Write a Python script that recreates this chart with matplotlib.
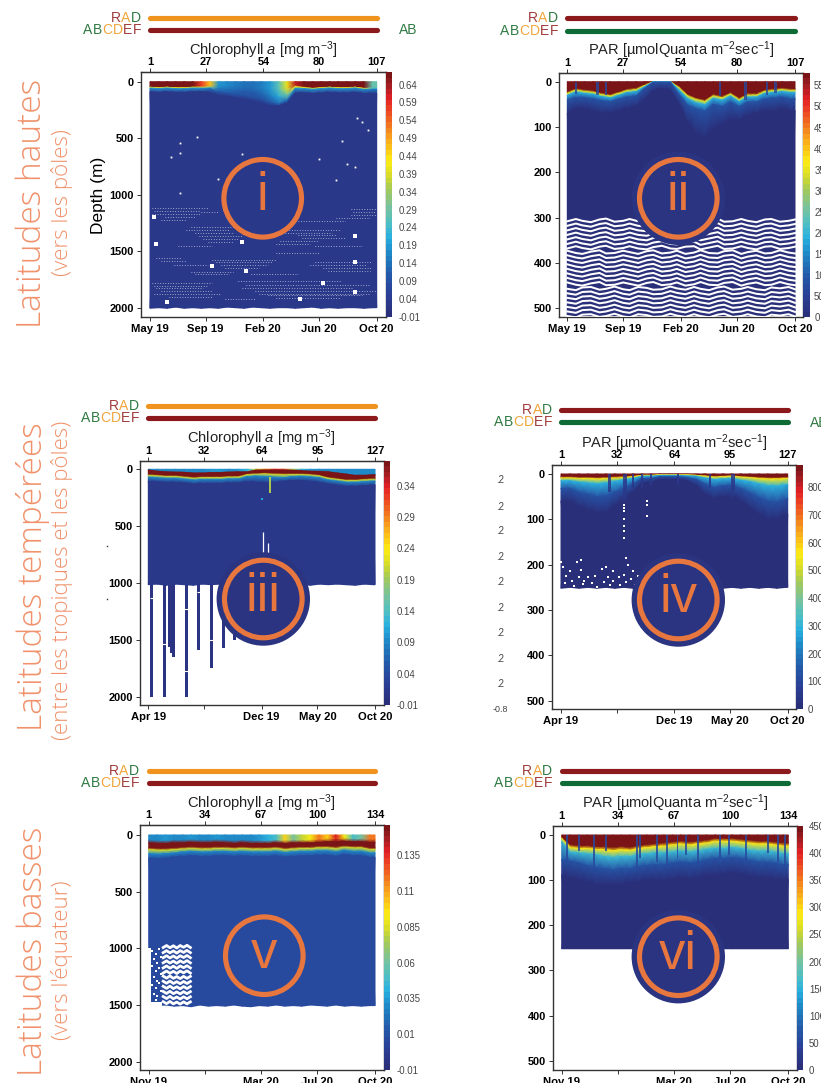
import numpy as np
import matplotlib
matplotlib.use("Agg")
import matplotlib.pyplot as plt
from matplotlib.colors import LinearSegmentedColormap, Normalize
from matplotlib.colorbar import ColorbarBase
from matplotlib.patches import Circle
from matplotlib.transforms import blended_transform_factory

plt.rcParams["font.family"] = ["Liberation Sans", "DejaVu Sans"]
plt.rcParams["mathtext.fontset"] = "custom"
plt.rcParams["mathtext.rm"] = "Liberation Sans"
plt.rcParams["mathtext.it"] = "Liberation Sans:italic"

W, H = 821, 1083

# === tick labels ===
ticks_i = [1, 27, 54, 80, 107]
dates_i = ["May 19", "Sep 19", "Feb 20", "Jun 20", "Oct 20"]
ticks_iii = [1, 32, 64, 95, 127]
dates_iii = ["Apr 19", "", "Dec 19", "May 20", "Oct 20"]
ticks_v = [1, 34, 67, 100, 134]
dates_v = ["Nov 19", "", "Mar 20", "Jul 20", "Oct 20"]

chl_title = r"Chlorophyll $\mathit{a}$ [mg m$^{-3}$]"
par_title = r"PAR [µmolQuanta m$^{-2}$sec$^{-1}$]"

# === panel i : chlorophyll, high latitudes (depth of each colour band per profile) ===
i_x = np.arange(1, 106, 4)
i_d1 = [45, 50, 45, 50, 50, 45, 45, 40, 30, 35, 40, 45, 50, 55, 60, 65, 55, 35, 45, 55, 50, 45, 50, 50, 45, 55, 50]
i_d2 = [50, 55, 50, 55, 55, 50, 50, 50, 60, 70, 80, 90, 100, 110, 125, 135, 120, 45, 55, 60, 55, 50, 55, 55, 50, 60, 60]
i_d3 = [58, 62, 58, 62, 62, 58, 58, 62, 90, 100, 115, 125, 140, 155, 180, 200, 165, 60, 62, 68, 62, 58, 62, 62, 58, 68, 70]
i_d4 = [90, 95, 90, 95, 95, 90, 90, 95, 120, 130, 145, 155, 170, 190, 215, 215, 190, 100, 100, 105, 100, 95, 100, 100, 95, 105, 105]
i_floor = [2005, 2000, 2005, 1995, 2005, 2000, 2005, 2000, 2005, 1995, 2000, 2005, 1995, 2000, 2005, 2000, 2000, 2005, 2000, 1995, 2005, 2000, 2005, 2000, 2000, 2005, 2000]
i_v1 = [.67, .67, .67, .67, .67, .67, .58, .47, .19, .17, .15, .14, .14, .15, .19, .27, .40, .62, .67, .67, .67, .67, .67, .67, .67, .67, .28]
i_v2 = [.42, .42, .42, .42, .42, .42, .42, .30, .15, .14, .12, .11, .11, .12, .15, .20, .28, .42, .42, .42, .42, .42, .42, .42, .42, .42, .24]
i_v3 = [.19, .19, .19, .19, .19, .19, .19, .14, .11, .10, .09, .09, .09, .09, .10, .12, .14, .19, .19, .19, .19, .19, .19, .19, .19, .19, .15]
i_hole_n = [15, 15, 11, 23, 44, 33, 15, 91, 80, 93, 97, 88, 98, 100, 103]
i_hole_d = [540, 628, 664, 493, 640, 861, 988, 522, 681, 731, 752, 870, 318, 360, 428]
i_block_n = [3, 4, 44, 30, 46, 97, 97, 97, 82, 71, 9]
i_block_d = [1195, 1433, 1421, 1628, 1675, 1363, 1598, 1864, 1785, 1920, 1952]
# runs of missing samples in the deep part: first profile, last profile, depth
i_runs = [(2, 28, 1120), (2, 25, 1170), (6, 18, 1220), (95, 107, 1130), (95, 107, 1180), (25, 33, 1150),
          (3, 24, 1145), (8, 22, 1195), (96, 106, 1155), (88, 104, 1205), (70, 92, 1230),
          (20, 42, 1290), (22, 40, 1340), (26, 42, 1390), (66, 90, 1310), (70, 88, 1360), (62, 80, 1410),
          (18, 38, 1315), (24, 44, 1365), (64, 86, 1335), (72, 92, 1385), (60, 76, 1435), (28, 40, 1415),
          (14, 30, 1450), (78, 100, 1450), (4, 16, 1560), (30, 60, 1580), (34, 56, 1620), (20, 40, 1680),
          (6, 18, 1590), (32, 58, 1600), (36, 52, 1645), (22, 38, 1705), (76, 102, 1625), (84, 104, 1675),
          (78, 105, 1600), (82, 105, 1650), (60, 80, 1520), (48, 70, 1700), (12, 28, 1620), (2, 30, 1780),
          (4, 26, 1830), (3, 34, 1880), (46, 104, 1800), (50, 107, 1850), (42, 90, 1760), (56, 100, 1890),
          (3, 28, 1805), (6, 30, 1855), (44, 96, 1825), (52, 104, 1875), (36, 50, 1920), (60, 90, 1910), (10, 30, 1905)]

# === panel ii : PAR, high latitudes ===
ii_x = np.arange(1, 106, 4)
ii_d1 = [22, 15, 18, 20, 25, 28, 22, 16, 14, 6, 0, 0, 0, 10, 28, 36, 40, 28, 32, 24, 36, 26, 26, 18, 16, 14, 16]
ii_d2 = [26, 19, 22, 24, 29, 32, 26, 20, 18, 9, 0, 0, 0, 14, 32, 40, 44, 32, 36, 28, 40, 30, 30, 22, 20, 18, 20]
ii_d3 = [30, 23, 26, 28, 33, 36, 30, 24, 22, 11, 0, 0, 0, 19, 38, 47, 51, 37, 41, 32, 44, 34, 34, 26, 24, 22, 24]
ii_d4 = [40, 35, 35, 38, 42, 44, 38, 34, 32, 15, 1, 1, 1, 28, 52, 60, 65, 50, 55, 45, 55, 45, 45, 38, 36, 34, 38]
ii_d5 = [70, 60, 60, 65, 70, 70, 65, 60, 55, 40, 20, 15, 20, 50, 90, 115, 125, 105, 95, 85, 85, 75, 70, 65, 65, 60, 65]
ii_floor = [516] * 27
ii_spike_n = [5, 15, 19, 72, 84, 94, 98]
ii_spike_d = [28, 30, 30, 32, 40, 30, 26]
ii_gap_levels = list(range(306, 520, 10))
ii_wave_n = [1, 5, 8, 12, 16, 19, 23, 27, 30, 34, 38, 41, 45, 49, 52, 56, 60, 63, 67, 71, 74, 78, 82, 85, 89, 93, 96, 100, 104, 107]
ii_wave_a = [2, -3, 1, 4, -2, -4, 3, 1, -3, 2, 4, -1, -4, 2, 3, -2, -3, 4, 0, -4, 3, 2, -3, 1, 4, -2, -3, 3, 1, -2]
ii_wave_b = [-3, 2, 4, -1, -4, 3, 2, -3, 0, 4, -2, -4, 3, 1, -3, 4, 1, -4, 2, 3, -2, -4, 4, 0, -3, 3, 2, -4, 1, 3]
ii_wave_c = [1, 4, -2, -3, 3, 1, -4, 2, 4, -3, -1, 3, 2, -4, 0, 3, -3, 1, 4, -2, -4, 3, 1, -3, 2, 4, -2, 0, -3, 2]

# === panel iii : chlorophyll, mid latitudes ===
iii_x = np.arange(1, 127, 5)
iii_d0 = [3, 12, 18, 20, 22, 28, 28, 24, 24, 20, 18, 18, 3, 3, 3, 3, 3, 8, 12, 14, 18, 28, 38, 48, 48, 44]
iii_d1 = [8, 18, 24, 26, 28, 34, 34, 30, 30, 26, 24, 24, 8, 8, 8, 8, 10, 14, 18, 20, 24, 34, 44, 54, 54, 50]
iii_d2 = [45, 50, 55, 55, 62, 70, 65, 65, 65, 60, 60, 40, 35, 32, 35, 38, 38, 38, 42, 50, 70, 80, 90, 90, 85, 80]
iii_d3 = [55, 60, 65, 65, 72, 80, 75, 75, 75, 70, 70, 50, 45, 42, 48, 50, 48, 48, 52, 60, 80, 90, 100, 100, 95, 90]
iii_d4 = [70, 75, 80, 80, 87, 95, 90, 90, 90, 85, 85, 65, 60, 65, 70, 75, 65, 62, 67, 75, 95, 105, 115, 115, 110, 105]
iii_d5 = [105, 110, 115, 115, 120, 130, 125, 125, 125, 120, 120, 110, 115, 120, 115, 105, 100, 100, 105, 115, 130, 140, 150, 150, 145, 140]
iii_floor = [1015, 1010, 1020, 1010, 1015, 1020, 1010, 1015, 1010, 1015, 1010, 1015, 1010, 1010, 1015, 1010, 1015, 1010, 1020, 1010, 1015, 1010, 1015, 1020, 1010, 1015]
iii_v0 = [.08, .09, .09, .09, .09, .09, .09, .10, .10, .09, .10, .12, .22, .29, .33, .31, .20, .12, .10, .09, .09, .09, .09, .09, .09, .09]
# deep casts below 1000 m
iii_cast_n = [3, 10, 13, 14, 15, 22, 29, 36, 43, 49]
iii_cast_d = [2000, 2000, 1560, 1620, 1650, 2000, 1590, 1750, 1570, 1500]
iii_break_n = [3, 10, 22, 22, 29, 36]
iii_break_d = [1130, 1535, 1230, 1770, 1080, 1500]

# === panel iv : PAR, mid latitudes ===
iv_x = np.arange(1, 127, 5)
iv_d1 = [6, 6, 7, 7, 8, 7, 6, 5, 4, 2, 2, 1, 1, 1, 1, 2, 3, 5, 4, 3, 5, 6, 7, 8, 8, 7]
iv_d2 = [9, 9, 10, 10, 11, 10, 9, 8, 6, 3, 3, 2, 2, 2, 2, 3, 5, 7, 6, 5, 7, 8, 10, 11, 11, 10]
iv_d3 = [15, 15, 18, 20, 22, 20, 16, 13, 10, 5, 5, 3, 3, 3, 4, 5, 9, 12, 11, 10, 14, 17, 22, 26, 27, 24]
iv_d4 = [32, 32, 40, 45, 50, 48, 40, 32, 22, 10, 10, 6, 6, 6, 8, 12, 22, 30, 26, 25, 32, 42, 52, 60, 62, 55]
iv_d5 = [60, 60, 72, 80, 85, 85, 70, 55, 40, 20, 18, 12, 12, 12, 15, 25, 45, 55, 50, 50, 60, 75, 90, 100, 100, 90]
iv_floor = [252, 250, 252, 250, 252, 250, 252, 250, 252, 250, 252, 250, 252, 250, 252, 250, 252, 250, 252, 250, 252, 250, 252, 250, 252, 250]
iv_spike_n = [28, 36, 37, 41, 46, 51, 66, 84, 96, 97]
iv_spike_d = [40, 60, 55, 35, 30, 25, 25, 30, 55, 35]
iv_hole_n = [1, 2, 4, 3, 6, 7, 8, 10, 11, 12, 13, 14, 12, 16, 18, 20, 21, 24, 26, 25, 27, 28, 30, 30, 33, 34, 36, 37, 38, 40, 41, 42, 44, 46,
             36, 36, 36, 36, 36, 36, 36, 37, 49, 49, 49]
iv_hole_d = [195, 205, 225, 240, 215, 235, 248, 195, 228, 212, 242, 235, 190, 228, 240, 225, 250, 210, 205, 238, 228, 245, 215, 235, 228, 245, 222, 238, 200, 232, 215, 245, 225, 240,
             68, 75, 82, 100, 115, 125, 142, 185, 60, 68, 92]

# === panel v : chlorophyll, low latitudes ===
v_x = np.arange(1, 132, 5)
v_d1 = [45, 50, 50, 45, 45, 40, 45, 45, 40, 45, 50, 45, 50, 50, 50, 45, 50, 45, 45, 45, 40, 35, 35, 30, 35, 35, 40]
v_d2 = [70, 75, 75, 70, 70, 65, 70, 70, 65, 70, 75, 70, 75, 75, 75, 70, 75, 70, 70, 70, 65, 60, 60, 55, 60, 60, 65]
v_d3 = [115, 120, 120, 115, 110, 105, 110, 110, 105, 105, 110, 105, 110, 110, 110, 105, 115, 110, 105, 105, 100, 100, 105, 95, 100, 100, 115]
v_d4 = [130, 135, 135, 130, 125, 120, 125, 125, 120, 120, 125, 120, 125, 125, 125, 120, 130, 125, 120, 120, 115, 115, 120, 110, 115, 115, 130]
v_d5 = [165, 170, 165, 160, 150, 145, 150, 150, 145, 145, 150, 145, 150, 150, 150, 145, 155, 150, 145, 145, 140, 140, 150, 135, 145, 145, 160]
v_d6 = [205, 210, 205, 195, 190, 185, 190, 190, 185, 185, 190, 185, 190, 190, 190, 185, 195, 190, 185, 185, 180, 180, 190, 175, 185, 185, 200]
v_floor = [1510, 1505, 1500, 1510, 1505, 1515, 1500, 1510, 1505, 1510, 1500, 1510, 1515, 1505, 1510, 1500, 1510, 1505, 1510, 1500, 1505, 1510, 1500, 1510, 1505, 1510, 1505]
v_v1 = [.03, .03, .035, .03, .03, .035, .03, .03, .035, .03, .03, .03, .03, .035, .04, .05, .10, .06, .08, .09, .12, .10, .14, .09, .05, .06, .12]
v_gap_levels = [985, 1030, 1075, 1120, 1165, 1210, 1255, 1300, 1345, 1390, 1435, 1480]
v_wave_n = [9.5, 11.5, 13.5, 15.5, 17.5, 19.5, 21.5, 23.5, 25.5]
v_wave_a = [8, -10, 10, -8, 12, -10, 6, -12, 8]
v_wave_b = [-10, 8, -12, 10, -6, 12, -8, 10, -8]
v_hole_n = [3, 5, 7, 4, 6, 8, 3, 5, 7, 4, 8, 6, 3, 5, 7, 4, 6, 8, 5, 7]
v_hole_d = [1020, 1050, 1010, 1090, 1130, 1080, 1160, 1200, 1170, 1250, 1230, 1290, 1320, 1350, 1310, 1400, 1420, 1380, 1460, 1480]

# === panel vi : PAR, low latitudes ===
vi_x = np.arange(1, 132, 5)
vi_d1 = [5, 22, 24, 24, 26, 26, 28, 26, 28, 24, 22, 20, 18, 16, 14, 16, 14, 12, 8, 8, 8, 10, 12, 14, 14, 16, 18]
vi_d2 = [8, 28, 30, 30, 32, 33, 35, 33, 34, 30, 28, 26, 25, 22, 20, 22, 20, 18, 14, 14, 14, 16, 18, 20, 20, 22, 25]
vi_d3 = [15, 38, 40, 42, 44, 48, 50, 48, 48, 44, 42, 40, 40, 38, 36, 38, 36, 32, 30, 30, 28, 30, 34, 36, 36, 38, 42]
vi_d4 = [55, 58, 62, 68, 72, 75, 78, 75, 75, 70, 68, 66, 66, 62, 60, 62, 60, 55, 52, 52, 50, 52, 56, 60, 60, 62, 66]
vi_d5 = [90, 95, 100, 105, 110, 110, 110, 110, 105, 105, 100, 100, 100, 98, 95, 98, 95, 90, 90, 88, 85, 88, 92, 95, 95, 98, 100]
vi_floor = [252] * 27
vi_spike_n = [4, 11, 20, 27, 45, 47, 57, 63, 69, 74, 81, 94, 99, 109, 122, 128, 132]
vi_spike_d = [60, 35, 80, 35, 70, 50, 60, 70, 50, 45, 70, 50, 45, 60, 40, 60, 70]

# --- colour scale of the sections ---
cmap = LinearSegmentedColormap.from_list("section", [
    (0.00, "#2a2f7a"), (0.08, "#2a3f95"), (0.16, "#2458a8"), (0.25, "#1f86c6"),
    (0.32, "#29b0e0"), (0.38, "#4fbfc4"), (0.45, "#79c29a"), (0.52, "#a2c95a"),
    (0.58, "#d8dc28"), (0.64, "#fdec14"), (0.70, "#fbbf1a"), (0.76, "#f5901e"),
    (0.83, "#ef5423"), (0.90, "#e41f26"), (0.95, "#a81e22"), (1.00, "#7a1416")], N=44)

fig = plt.figure(figsize=(W / 100, H / 100), dpi=100, facecolor="white")

ov = fig.add_axes([0, 0, 1, 1], zorder=10)
ov.set_xlim(0, W)
ov.set_ylim(H, 0)
ov.axis("off")
ov.patch.set_alpha(0)
ov.set_autoscale_on(False)


def px_axes(l, t, r, b):
    return fig.add_axes([l / W, 1 - b / H, (r - l) / W, (b - t) / H])


def make_panel(box, xref, yref, ticks, dates, yticks):
    # xref = (pixel of first tick, pixel of last tick), yref = (pixel of 0, pixel of last ytick)
    l, t, r, b = box
    ax = px_axes(l, t, r, b)
    sx = (xref[1] - xref[0]) / (ticks[-1] - ticks[0])
    xlim = (ticks[0] - (xref[0] - l) / sx, ticks[-1] + (r - xref[1]) / sx)
    sy = (yref[1] - yref[0]) / yticks[-1]
    ylim = ((b - yref[0]) / sy, -(yref[0] - t) / sy)
    ax.set_xticks(ticks)
    ax.set_xticklabels(dates, fontweight="bold", fontsize=8.1)
    ax.set_yticks(yticks)
    ax.set_yticklabels([str(v) for v in yticks], fontweight="bold", fontsize=7.9)
    ax.tick_params(length=3, width=0.7, color="#333333", pad=2)
    for s in ax.spines.values():
        s.set_color("#333333")
        s.set_linewidth(1.0)
    top = ax.secondary_xaxis("top")
    top.set_xticks(ticks)
    top.set_xticklabels([str(v) for v in ticks], fontweight="bold", fontsize=7.9)
    top.tick_params(length=3, width=0.7, color="#333333", pad=0.4)
    ax.set_xlim(xlim)
    ax.set_ylim(ylim)
    return ax


def draw_bands(ax, x, end, edges, values, norm):
    # section drawn as a mesh: each band edge of each profile group carries one value
    n = len(x)
    xs = np.append(x, end)
    ys = [np.zeros(n)] + [np.asarray(e, dtype=float) for e in edges]
    vals = [values[0]] + list(values) + [values[-1]]
    Y = np.array([np.append(e, e[-1]) for e in ys])
    C = []
    for v in vals:
        v = np.broadcast_to(v, (n,))
        C.append(np.append(v, v[-1]))
    X = np.tile(xs, (len(ys), 1))
    ax.pcolormesh(X, Y, np.array(C), cmap=cmap, norm=norm, shading="gouraud", zorder=1)


def add_cbar(box, norm, ticks, labels, pad):
    cax = px_axes(*box)
    cb = ColorbarBase(cax, cmap=cmap, norm=norm)
    cb.set_ticks(ticks, labels=labels)
    cb.outline.set_visible(False)
    cax.tick_params(length=0, labelsize=6.9, labelcolor="#444444", pad=pad)


def letters(x_right, y, text, colors):
    rend = fig.canvas.get_renderer()
    for ch, col in zip(reversed(text), reversed(colors)):
        t = ov.text(x_right, y, ch, ha="right", va="center", fontsize=10, color=col)
        x_right -= t.get_window_extent(rend).width + 0.4


RED_L, ORA_L, GRE_L = "#a03c3c", "#f0a53c", "#2f7a42"
ORANGE, DARKRED, GREEN = "#f0921e", "#8c1a1c", "#0f6b36"


def flag_bars(ax, profiles, label_r, y1, y2, col1, col2):
    letters(label_r, y1, "RAD", [RED_L, ORA_L, GRE_L])
    letters(label_r, y2, "ABCDEF", [GRE_L, GRE_L, ORA_L, ORA_L, RED_L, RED_L])
    trans = blended_transform_factory(ax.transData, ov.transData)
    for y, col in [(y1, col1), (y2, col2)]:
        ov.plot(profiles, np.full(len(profiles), y), transform=trans, color=col, lw=3.7,
                solid_capstyle="round", clip_on=False)


def badge(cx, cy, label, halo=None):
    if halo is not None:
        ov.add_patch(Circle((cx, cy), 46.7, color=halo, lw=0))
    ov.add_patch(Circle((cx, cy), 38.8, facecolor=halo if halo else "none", edgecolor="#e8773f", lw=3.7))
    ov.text(cx, cy - 2, label, ha="center", va="center", color="#e8773f", fontsize=38,
            family=["Liberation Sans Narrow", "Liberation Sans"])


# --- panel i ---
norm_i = Normalize(-0.01, 0.675)
ax1 = make_panel((141, 72, 385.7, 316.7), (150, 376.7), (81.7, 307.7), ticks_i, dates_i, [0, 500, 1000, 1500, 2000])
draw_bands(ax1, i_x, 107, [i_d1, i_d2, i_d3, i_d4, i_floor], [i_v1, i_v2, i_v3, 0.03], norm_i)
for a, b, d in i_runs:
    ax1.plot([a, b], [d, d], color="white", lw=0.55, ls=(0, (1, 2.4)), alpha=0.85, zorder=2)
ax1.plot(i_hole_n, i_hole_d, "s", color="white", ms=1.3, mew=0, zorder=3)
ax1.plot(i_block_n, i_block_d, "s", color="white", ms=2.4, mew=0, zorder=3)
add_cbar((385.7, 72, 391.7, 316.7), norm_i, [-0.01, 0.04, 0.09, 0.14, 0.19, 0.24, 0.29, 0.34, 0.39, 0.44, 0.49, 0.54, 0.59, 0.64],
         ["-0.01", "0.04", "0.09", "0.14", "0.19", "0.24", "0.29", "0.34", "0.39", "0.44", "0.49", "0.54", "0.59", "0.64"], 5)
flag_bars(ax1, np.arange(1, 108), 141, 17.7, 30, ORANGE, DARKRED)

# --- panel ii ---
norm_ii = Normalize(0, 580)
ax2 = make_panel((559, 72.7, 802.7, 317.3), (567.3, 795), (81.7, 308.3), ticks_i, dates_i, [0, 100, 200, 300, 400, 500])
draw_bands(ax2, ii_x, 107, [ii_d1, ii_d2, ii_d3, ii_d4, ii_d5, ii_floor], [580, 350, 190, 80, 5], norm_ii)
ax2.bar(ii_spike_n, ii_spike_d, 1.2, color=cmap(norm_ii(70)), linewidth=0, alpha=0.8, zorder=2)
for k, lev in enumerate(ii_gap_levels):
    wave = ii_wave_a if k < 7 else ii_wave_b if k < 15 else ii_wave_c
    ax2.plot(ii_wave_n, lev + np.array(wave), color="white", lw=1.45, zorder=3)
add_cbar((802.7, 72.7, 810, 317.3), norm_ii, list(range(0, 600, 50)), [str(v) for v in range(0, 600, 50)], 3)
flag_bars(ax2, np.arange(1, 108), 558, 18, 30.7, DARKRED, GREEN)

# --- panel iii ---
norm_iii = Normalize(-0.01, 0.38)
ax3 = make_panel((140, 460.7, 384, 705), (148.3, 375), (469.3, 696.7), ticks_iii, dates_iii, [0, 500, 1000, 1500, 2000])
draw_bands(ax3, iii_x, 127, [iii_d0, iii_d1, iii_d2, iii_d3, iii_d4, iii_d5, iii_floor],
           [iii_v0, 0.38, 0.38, 0.22, 0.09, 0.015], norm_iii)
ax3.bar(iii_cast_n, iii_cast_d, 1.7, color=cmap(norm_iii(0.0)), linewidth=0, zorder=0.5)
ax3.plot(iii_break_n, iii_break_d, "_", color="white", ms=3, mew=0.8, zorder=3)
ax3.vlines([65, 67.7], [555, 650], [740, 740], color="white", lw=0.9, zorder=3)
ax3.vlines([68.6], [70], [210], color=cmap(norm_iii(0.2)), lw=1.4, zorder=3)
ax3.plot([64], [260], "s", color=cmap(norm_iii(0.11)), ms=2, mew=0, zorder=3)
add_cbar((384, 460.7, 390, 705), norm_iii, [-0.01, 0.04, 0.09, 0.14, 0.19, 0.24, 0.29, 0.34],
         ["-0.01", "0.04", "0.09", "0.14", "0.19", "0.24", "0.29", "0.34"], 5)
flag_bars(ax3, np.arange(1, 128), 139, 405.7, 418.3, ORANGE, DARKRED)

# --- panel iv ---
norm_iv = Normalize(0, 880)
ax4 = make_panel((552, 465, 796, 709), (561, 787.7), (474, 700.7), ticks_iii, dates_iii, [0, 100, 200, 300, 400, 500])
draw_bands(ax4, iv_x, 127, [iv_d1, iv_d2, iv_d3, iv_d4, iv_d5, iv_floor], [880, 560, 300, 120, 15], norm_iv)
ax4.bar(iv_spike_n, iv_spike_d, 1.2, color=cmap(norm_iv(40)), linewidth=0, alpha=0.85, zorder=2)
ax4.plot(iv_hole_n, iv_hole_d, "s", color="white", ms=1.8, mew=0, zorder=3)
add_cbar((796, 465, 803.3, 709), norm_iv, list(range(0, 900, 100)), [str(v) for v in range(0, 900, 100)], 3)
flag_bars(ax4, np.arange(1, 128), 552.3, 410, 422.3, DARKRED, GREEN)

# --- panel v ---
norm_v = Normalize(-0.015, 0.156)
ax5 = make_panel((140, 825, 384, 1070), (148.7, 375), (835, 1061.7), ticks_v, dates_v, [0, 500, 1000, 1500, 2000])
draw_bands(ax5, v_x, 134, [v_d1, v_d2, v_d3, v_d4, v_d5, v_d6, v_floor], [v_v1, 0.156, 0.156, 0.085, 0.03, 0.008], norm_v)
ax5.bar([0, 2.5], [530, 70], [2.5, 6.5], bottom=[1000, 1470], align="edge", color="white", linewidth=0, zorder=2)
for k, lev in enumerate(v_gap_levels):
    wave = v_wave_a if k < 6 else v_wave_b
    ax5.plot(v_wave_n, lev + np.array(wave), color="white", lw=2.0, zorder=3)
ax5.plot(v_hole_n, v_hole_d, "s", color="white", ms=1.8, mew=0, zorder=3)
add_cbar((384, 825, 390, 1070), norm_v, [-0.015, 0.01, 0.035, 0.06, 0.085, 0.11, 0.135],
         ["-0.01", "0.01", "0.035", "0.06", "0.085", "0.11", "0.135"], 5)
flag_bars(ax5, np.arange(1, 135), 139, 771, 783, ORANGE, DARKRED)

# --- panel vi ---
norm_vi = Normalize(0, 450)
ax6 = make_panel((552.7, 826, 796.7, 1070), (561.7, 788.3), (835, 1060.7), ticks_v, dates_v, [0, 100, 200, 300, 400, 500])
draw_bands(ax6, vi_x, 134, [vi_d1, vi_d2, vi_d3, vi_d4, vi_d5, vi_floor], [450, 290, 160, 70, 8], norm_vi)
ax6.bar(vi_spike_n, vi_spike_d, 1.1, color=cmap(norm_vi(60)), linewidth=0, alpha=0.85, zorder=2)
add_cbar((796.7, 826, 803.3, 1070), norm_vi, list(range(0, 500, 50)), [str(v) for v in range(0, 500, 50)], 4)
flag_bars(ax6, np.arange(1, 135), 552.3, 771.3, 783.3, DARKRED, GREEN)

# --- titles and labels ---
for x, y, txt, size in [(263, 50, chl_title, 10.6), (681.7, 50, par_title, 10.5), (261.7, 438, chl_title, 10.6),
                        (674, 442.7, par_title, 10.5), (261.7, 803, chl_title, 10.6), (675, 802.7, par_title, 10.5)]:
    ov.text(x, y, txt, ha="center", va="center", fontsize=size, color="#222222")

ov.text(98, 195, "Depth (m)", rotation=90, ha="center", va="center", fontsize=12.5, color="black")

# pieces of the neighbouring figure that stay visible at the crop edges
ov.text(399.3, 30, "AB", ha="left", va="center", fontsize=10, color=GRE_L)
ov.text(810, 423, "AB", ha="left", va="center", fontsize=10, color=GRE_L)
for y in [480, 506.7, 531, 556.7, 582.3, 608.3, 633.3, 659, 684.3]:
    ov.text(500, y, ".2", ha="center", va="center", fontsize=6.9, color="#444444")
ov.text(500, 710, "-0.8", ha="center", va="center", fontsize=6.4, color="#444444")
ov.plot([106.6, 106.6], [546, 599], "s", color="#333333", ms=1, mew=0)

# French region labels on the left
LAB = "#f0926c"
for x, y, txt in [(32, 203, "Latitudes hautes"), (33, 577, "Latitudes tempérées"), (33, 951, "Latitudes basses")]:
    ov.text(x, y, txt, rotation=90, ha="center", va="center", fontsize=24, color=LAB, family="Open Sans", fontweight="light")
for x, y, txt in [(62, 203, "(vers les pôles)"), (62, 580, "(entre les tropiques et les pôles)"), (62, 960, "(vers l'équateur)")]:
    ov.text(x, y, txt, rotation=90, ha="center", va="center", fontsize=16, color=LAB, family="Open Sans", fontweight="light")

# numbered badges over the sections
badge(262.7, 198.3, "i")
badge(678.3, 198.3, "ii", "#2a3480")
badge(263.3, 599, "iii", "#2a3480")
badge(678.3, 600, "iv", "#2a3480")
badge(264.3, 955.7, "v")
badge(678.3, 956.7, "vi", "#2a3480")

fig.savefig("out.png", dpi=100)
